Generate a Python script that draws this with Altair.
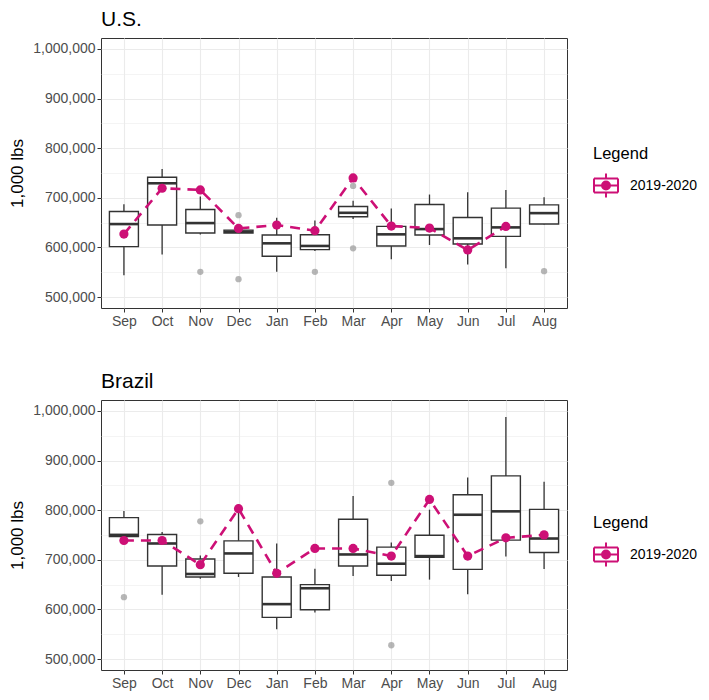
import altair as alt
import pandas as pd

months = ["Sep", "Oct", "Nov", "Dec", "Jan", "Feb", "Mar", "Apr", "May", "Jun", "Jul", "Aug"]

# U.S. box statistics (1,000 lbs)
us_lo = [544150, 585600, 626000, 629000, 550800, 593000, 657100, 576200, 605000, 565500, 558200, 646000]
us_q1 = [601600, 645100, 629000, 629000, 582250, 595600, 661800, 603000, 625000, 607000, 622350, 647100]
us_med = [647100, 729300, 649100, 631700, 608300, 603000, 669800, 626400, 637000, 618350, 640400, 669150]
us_q3 = [672500, 741300, 676500, 635000, 625000, 625700, 682500, 642400, 686500, 660450, 679200, 685850]
us_hi = [687200, 758000, 702600, 635000, 659800, 654400, 693900, 678500, 706600, 711200, 715900, 701200]
us_out_month = ["Nov", "Dec", "Dec", "Feb", "Mar", "Mar", "Aug"]
us_out_value = [550800, 665100, 536100, 550800, 724000, 598300, 552200]
us_2019 = [627000, 719300, 715900, 638400, 645100, 633700, 740000, 643100, 639000, 594900, 642400, None]

# Brazil box statistics (1,000 lbs)
br_lo = [746900, 629400, 662100, 665450, 559900, 594000, 667450, 657400, 660100, 630700, 706850, 681450]
br_q1 = [746900, 687500, 665450, 672800, 584000, 599300, 687500, 668800, 704850, 680800, 739600, 714850]
br_med = [750250, 732900, 671450, 712850, 610700, 642700, 710800, 692150, 707500, 790800, 797650, 742900]
br_q3 = [785000, 750900, 701500, 738200, 665450, 650100, 781600, 725550, 749600, 831050, 869100, 801650]
br_hi = [798300, 756250, 708800, 812000, 732900, 682100, 828400, 734900, 801000, 865800, 988000, 857100]
br_out_month = ["Sep", "Nov", "Apr", "Apr"]
br_out_value = [624700, 777600, 855100, 527900]
br_2019 = [738900, 738900, 690150, 803000, 672800, 722900, 722900, 707500, 821700, 707500, 744250, 750250]

y_ticks = list(range(500000, 1000001, 50000))

MAGENTA = "#CD1076"
DARK = "#333333"
FONT = "Liberation Sans"

legend_path = ("M-1,-0.58L1,-0.58M1,-0.58L1,0.58M1,0.58L-1,0.58M-1,0.58L-1,-0.58"
               "M-1,0L1,0M0,-1L0,-0.58M0,0.58L0,1"
               "M0.33,0A0.33,0.33,0,1,1,-0.33,0A0.33,0.33,0,1,1,0.33,0Z")


def panel(title, lo, q1, med, q3, hi, out_m, out_v, series, legend_y):
    box = pd.DataFrame({"month": months, "lo": lo, "q1": q1, "med": med, "q3": q3, "hi": hi})
    outl = pd.DataFrame({"month": out_m, "value": out_v})
    ser = pd.DataFrame({"month": months, "value": series, "series": "2019-2020"}).dropna()

    x = alt.X("month:N", sort=months, title=None,
              scale=alt.Scale(type="point", padding=0.6, domain=months),
              axis=alt.Axis(labelAngle=0, grid=True, gridColor="#EBEBEB", gridWidth=1.1,
                            domain=False, tickColor=DARK, tickSize=4, labelPadding=2,
                            labelColor="#4D4D4D", labelFontSize=14, labelFont=FONT))
    yscale = alt.Scale(domain=[478000, 1022000], nice=False, zero=False)
    yaxis = alt.Axis(values=y_ticks, title="1,000 lbs", titleFontSize=17, titleFont=FONT,
                     titleFontWeight="normal", titleColor="black", titlePadding=6,
                     labelExpr="datum.value % 100000 == 0 ? format(datum.value, ',') : ''",
                     labelColor="#4D4D4D", labelFontSize=14, labelFont=FONT, labelPadding=2,
                     domain=False, tickSize=4, tickColor=DARK,
                     tickOpacity={"condition": {"test": "datum.value % 100000 == 0", "value": 1}, "value": 0},
                     gridColor="#EBEBEB",
                     gridWidth={"condition": {"test": "datum.value % 100000 == 0", "value": 1.1}, "value": 0.55})

    base = alt.Chart(box)
    whisk = base.mark_rule(color=DARK, strokeWidth=1.3).encode(
        x=x, y=alt.Y("lo:Q", scale=yscale, axis=yaxis), y2="hi:Q")
    rect = base.mark_bar(size=29, fill="white", stroke=DARK, strokeWidth=1.4).encode(
        x=x, y=alt.Y("q1:Q", scale=yscale, axis=yaxis), y2="q3:Q")
    medt = base.mark_tick(size=29, thickness=2.6, color=DARK, opacity=1).encode(
        x=x, y=alt.Y("med:Q", scale=yscale, axis=yaxis))
    outs = alt.Chart(outl).mark_circle(size=40, color="#9E9E9E", opacity=0.75).encode(
        x=x, y=alt.Y("value:Q", scale=yscale, axis=yaxis))
    line = alt.Chart(ser).mark_line(color=MAGENTA, strokeWidth=2.6, strokeDash=[10, 7]).encode(
        x=x, y=alt.Y("value:Q", scale=yscale, axis=yaxis))
    pts = alt.Chart(ser).mark_point(filled=True, size=85, opacity=1, shape="circle").encode(
        x=x, y=alt.Y("value:Q", scale=yscale, axis=yaxis),
        color=alt.Color("series:N",
                        scale=alt.Scale(domain=["2019-2020"], range=[MAGENTA]),
                        legend=alt.Legend(title="Legend", orient="none", legendX=492, legendY=legend_y,
                                          symbolType=legend_path, symbolSize=576,
                                          symbolStrokeColor=MAGENTA, symbolStrokeWidth=2,
                                          symbolOpacity=1, padding=0,
                                          titleFontSize=16.5, titleFont=FONT, titleFontWeight="normal",
                                          titleColor="black", titlePadding=10,
                                          labelFontSize=14, labelFont=FONT, labelColor="black",
                                          labelOffset=11)))
    return alt.layer(whisk, rect, medt, outs, line, pts).properties(
        width=466, height=270,
        title=alt.TitleParams(title, anchor="start", frame="group", fontSize=21, font=FONT,
                              fontWeight="normal", color="black", offset=8))


top = panel("U.S.", us_lo, us_q1, us_med, us_q3, us_hi, us_out_month, us_out_value, us_2019, 108)
bottom = panel("Brazil", br_lo, br_q1, br_med, br_q3, br_hi, br_out_month, br_out_value, br_2019, 115)

chart = alt.vconcat(top, bottom, spacing=41).resolve_scale(
    color="independent").resolve_legend(color="independent").properties(
    padding={"left": 0, "top": 0, "right": 0, "bottom": 0}
).configure_view(stroke=DARK, strokeWidth=1)

chart.save("out.html", embed_options={"renderer": "svg", "actions": False})
